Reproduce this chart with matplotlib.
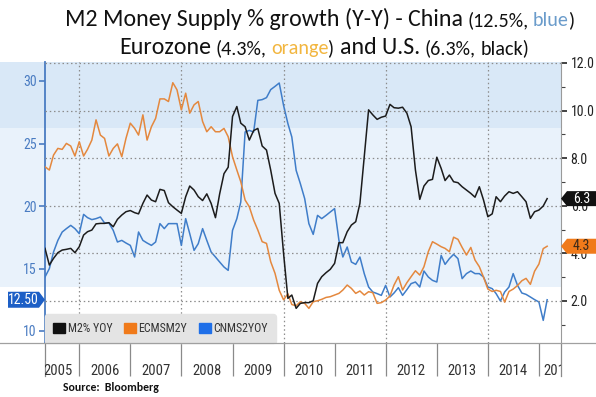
import matplotlib
matplotlib.use("Agg")
import matplotlib.pyplot as plt
import pandas as pd
from matplotlib import font_manager
from matplotlib.patches import Rectangle, Polygon, Patch
from matplotlib.transforms import Bbox, TransformedBbox, IdentityTransform

# monthly data, May 2005 .. Mar 2015
months = pd.date_range("2005-05-01", periods=119, freq="MS")

china_m2 = [14.32, 14.99, 16.32, 17.25, 17.92, 18.19, 18.45, 18.19, 17.79, 19.33,
            19.07, 18.91, 18.99, 19.12, 18.64, 18.64, 18.05, 17.12, 17.25, 17.04,
            16.85, 15.92, 17.92, 17.25, 17.04, 16.85, 17.12, 18.59, 18.19, 18.59,
            18.59, 18.59, 16.85, 18.99, 17.79, 16.45, 16.99, 18.19, 17.25, 16.32,
            15.92, 15.52, 15.12, 14.85, 18.05, 18.99, 20.32, 25.92, 26.05, 25.92,
            28.45, 28.51, 28.67, 29.31, 29.57, 29.84, 28.05, 26.59, 25.52, 22.85,
            21.79, 20.59, 18.59, 17.73, 19.25, 18.99, 19.25, 19.52, 19.79, 17.25,
            15.92, 16.72, 15.52, 15.33, 15.92, 14.59, 13.52, 13.12, 12.99, 12.85,
            13.65, 12.72, 13.04, 13.47, 12.85, 13.31, 13.79, 13.92, 13.52, 14.80,
            14.32, 14.05, 13.92, 16.05, 15.33, 15.79, 16.13, 15.79, 14.19, 14.59,
            14.80, 14.59, 14.59, 14.32, 13.52, 13.39, 12.99, 12.40, 13.12, 13.52,
            14.59, 13.65, 13.04, 12.93, 12.72, 12.51, 12.32, 10.85, 12.50]

euro_m2 = [7.64, 7.50, 8.13, 8.41, 8.37, 8.62, 8.51, 8.09, 8.69, 8.09,
           8.37, 8.76, 9.61, 8.97, 8.83, 8.09, 8.41, 8.60, 8.06, 8.83,
           9.47, 9.25, 8.97, 9.82, 8.76, 9.32, 9.67, 10.49, 10.49, 10.38,
           11.17, 10.87, 10.03, 10.73, 9.89, 10.24, 10.38, 9.54, 9.11, 9.32,
           9.11, 9.11, 9.25, 8.90, 8.06, 7.50, 7.01, 6.24, 5.96, 5.40,
           4.98, 4.49, 4.42, 3.65, 3.16, 2.45, 2.05, 2.30, 1.85, 1.80,
           1.97, 1.90, 1.69, 1.97, 2.01, 2.07, 2.15, 2.18, 2.25, 2.32,
           2.46, 2.67, 2.53, 2.32, 2.42, 2.25, 2.39, 2.35, 1.90, 1.93,
           2.04, 2.21, 2.67, 3.02, 2.46, 2.77, 3.02, 3.27, 3.09, 3.44,
           4.07, 4.49, 4.39, 4.28, 4.21, 4.07, 4.68, 4.59, 4.25, 3.93,
           4.25, 3.72, 3.44, 3.00, 2.50, 2.40, 2.45, 2.40, 1.95, 2.40,
           2.50, 2.65, 2.85, 2.95, 2.70, 3.25, 3.55, 4.20, 4.30]

us_m2 = [4.21, 3.51, 3.79, 4.03, 4.14, 4.17, 4.21, 4.03, 4.28, 4.77,
         4.91, 4.98, 5.24, 5.26, 5.26, 5.29, 5.12, 5.43, 5.61, 5.75,
         5.80, 5.71, 5.66, 6.10, 6.45, 6.24, 6.17, 6.69, 6.64, 6.13,
         5.96, 5.82, 5.68, 6.38, 6.83, 6.66, 6.38, 6.22, 6.50, 6.10,
         5.50, 6.50, 7.35, 7.62, 9.75, 10.17, 9.47, 9.32, 8.76, 9.16,
         9.25, 8.51, 8.34, 7.50, 6.52, 6.10, 4.00, 2.11, 2.25, 1.69,
         1.90, 1.93, 1.93, 2.01, 2.74, 3.02, 3.19, 3.33, 3.58, 4.45,
         4.45, 4.91, 5.19, 5.33, 6.10, 8.06, 10.03, 9.82, 9.63, 9.72,
         9.77, 10.26, 10.12, 10.10, 10.14, 9.89, 9.32, 7.50, 6.27, 6.83,
         7.06, 7.11, 8.04, 7.57, 7.06, 7.29, 7.01, 6.97, 6.80, 6.66,
         6.52, 6.36, 6.80, 6.24, 5.54, 5.66, 6.38, 6.17, 6.41, 6.59,
         6.52, 6.59, 6.38, 6.17, 5.47, 5.75, 5.82, 5.99, 6.30]

series_names = ["M2% YOY", "ECMSM2Y", "CNMS2YOY"]
left_ticks = [10, 15, 20, 25, 30]
right_ticks = [2, 4, 6, 8, 10, 12]
right_minor = [1, 3, 5, 7, 9, 11]
years = list(range(2005, 2016))
grid_years = [2006, 2008, 2010, 2012, 2014]

BLACK = "#1c1c1c"
ORANGE = "#e4883e"
BLUE = "#3f7dc9"
AX_BLUE = "#4a7cc2"
GRAY = "#9a9a9a"

installed = {f.name for f in font_manager.fontManager.ttflist}


def pick(*names):
    for n in names:
        if n in installed:
            return n
    return "DejaVu Sans"


AXIS_FONT = pick("Liberation Sans Narrow", "Roboto Condensed", "DejaVu Sans")
TITLE_FONT = pick("Carlito", "Lato", "Open Sans")

W, H = 596, 397
fig = plt.figure(figsize=(W / 100, H / 100), dpi=100)


def box(x, y, w, h):
    # pixel box measured from top-left -> figure fraction
    return [x / W, 1 - (y + h) / H, w / W, h / H]


# background bands
for (y0, y1, c) in [(62, 128, "#d9e8f7"), (128, 287, "#e9f2fb")]:
    fig.add_artist(Rectangle((0, 1 - y1 / H), 561 / W, (y1 - y0) / H,
                             transform=fig.transFigure, facecolor=c,
                             edgecolor="none", zorder=-5))

ax = fig.add_axes(box(45, 62, 516, 281))
ax2 = ax.twinx()
ax.patch.set_visible(False)

ax.plot(months, china_m2, color=BLUE, lw=1.1, zorder=3)
ax2.plot(months, euro_m2, color=ORANGE, lw=1.1, zorder=3)
ax2.plot(months, us_m2, color=BLACK, lw=1.1, zorder=4)

ax.set_xlim(pd.Timestamp("2005-05-01"), pd.Timestamp("2015-06-08"))
ax.set_ylim(9.04, 31.52)
ax2.set_ylim(0.235, 12.04)

# grid
ax2.set_yticks(right_ticks)
ax2.set_yticks(right_minor, minor=True)
ax2.grid(axis="y", which="major", color="#8c8c8c", ls=(0, (1.2, 2.2)), lw=0.9)
for yr in grid_years:
    ax.axvline(pd.Timestamp(f"{yr}-01-01"), color="#8c8c8c",
               ls=(0, (1.2, 2.2)), lw=0.9, zorder=1)

# spines
for a in (ax, ax2):
    a.spines["top"].set_visible(False)
ax2.spines["left"].set_visible(False)
ax.spines["right"].set_visible(False)
ax.spines["left"].set_color(AX_BLUE)
ax.spines["left"].set_linewidth(1.3)
ax2.spines["right"].set_color(GRAY)
ax.spines["bottom"].set_visible(False)
ax2.spines["bottom"].set_visible(False)

# left axis (China)
ax.set_yticks(left_ticks)
ax.tick_params(axis="y", colors=AX_BLUE, labelsize=10, length=4, width=1.2, pad=2)
for lab in ax.get_yticklabels():
    lab.set_family(AXIS_FONT)

# right axis
ax2.yaxis.set_major_formatter("{x:.1f}")
ax2.tick_params(axis="y", which="major", colors="#222222", labelsize=10,
                length=4, width=1.2, pad=3)
ax2.tick_params(axis="y", which="minor", colors="#444444", length=3, width=0.8)
for lab in ax2.get_yticklabels():
    lab.set_family(AXIS_FONT)

# x axis: year separators below the plot
ax.set_xticks([pd.Timestamp(f"{y}-01-01") for y in years[1:]])
ax.set_xticklabels([])
ax.tick_params(axis="x", direction="out", length=24, width=0.9, color="#8a8a8a")
ax2.tick_params(axis="x", length=0)
fig.add_artist(plt.Line2D([0, 1], [1 - 343 / H] * 2, color="#a0a0a0", lw=0.9))
for xa in (0, 1):
    ax.plot([xa, xa], [0, -0.117], transform=ax.transAxes, color="#8a8a8a",
            lw=0.9, clip_on=False)

clip = TransformedBbox(Bbox([[0, -1], [1, 1]]), ax.transAxes)
label_pos = {2005: "2005-08-01", 2015: "2015-05-15"}
for y in years:
    t = ax.text(pd.Timestamp(label_pos.get(y, f"{y}-07-01")), -0.1, str(y),
                transform=ax.get_xaxis_transform(), ha="center", va="center",
                fontsize=10.5, color="#333333", family=AXIS_FONT)
    t.set_clip_path(None)
    t.set_clip_box(clip)
    t.set_clip_on(True)

# legend
handles = [Patch(facecolor=c, edgecolor=c) for c in ("#111111", "#f07a1a", "#1f6fe8")]
leg = ax2.legend(handles, series_names, loc="lower left", bbox_to_anchor=(0, 0),
                 ncol=3, frameon=True, fancybox=True, facecolor="#e4e4e4",
                 edgecolor="#e4e4e4", framealpha=1, handlelength=1.0,
                 handleheight=1.0, handletextpad=0.25, columnspacing=0.95,
                 borderpad=0.65, borderaxespad=0,
                 prop={"family": AXIS_FONT, "size": 8.6})
for txt in leg.get_texts():
    txt.set_color("#333333")

# value tags
r = fig.canvas.get_renderer()


def tag(x_tip, yc, w, h, text, fc, tc, side):
    d = 6
    if side == "right":
        verts = [(x_tip, yc), (x_tip + d, yc + h / 2), (x_tip + w, yc + h / 2),
                 (x_tip + w, yc - h / 2), (x_tip + d, yc - h / 2)]
        xc = x_tip + d + (w - d) / 2
    else:
        verts = [(x_tip, yc), (x_tip - d, yc + h / 2), (x_tip - w, yc + h / 2),
                 (x_tip - w, yc - h / 2), (x_tip - d, yc - h / 2)]
        xc = x_tip - d - (w - d) / 2
    fig.add_artist(Polygon(verts, closed=True, transform=IdentityTransform(),
                           facecolor=fc, edgecolor="none", zorder=10))
    fig.text(xc, yc, text, transform=IdentityTransform(), ha="center",
             va="center", color=tc, fontsize=10, family=AXIS_FONT, zorder=11)


x_right = ax2.transAxes.transform((1, 0))[0]
x_left = ax.transAxes.transform((0, 0))[0]
tag(x_right, ax2.transData.transform((0, us_m2[-1]))[1], 35, 15,
    f"{us_m2[-1]:.1f}", "#111111", "white", "right")
tag(x_right, ax2.transData.transform((0, euro_m2[-1]))[1], 35, 15,
    f"{euro_m2[-1]:.1f}", "#f07a1a", "#3a2a1a", "right")
tag(x_left, ax.transData.transform((0, china_m2[-1]))[1], 37, 16,
    f"{china_m2[-1]:.2f}", "#1d5fc6", "white", "left")

# title with coloured runs
BIG, SMALL = 17.2, 14.5


def rich_line(y_px, runs, center_px=320):
    sp = {}
    texts = []
    for s, size, color, gap in runs:
        t = fig.text(0, 1 - y_px / H, s, fontsize=size, color=color,
                     family=TITLE_FONT, va="baseline", ha="left")
        texts.append((t, size, gap))
    widths = []
    for t, size, gap in texts:
        if size not in sp:
            a = fig.text(0, 0, "a a", fontsize=size, family=TITLE_FONT)
            b = fig.text(0, 0, "aa", fontsize=size, family=TITLE_FONT)
            sp[size] = a.get_window_extent(r).width - b.get_window_extent(r).width
            a.remove()
            b.remove()
        widths.append((sp[size] if gap else 0) + t.get_window_extent(r).width)
    x = center_px - sum(widths) / 2
    for (t, size, gap), w in zip(texts, widths):
        t.set_x((x + (sp[size] if gap else 0)) / W)
        x += w


rich_line(26, [("M2 Money Supply % growth (Y-Y) - China", BIG, "#111111", False),
               ("(12.5%,", SMALL, "#111111", True),
               ("blue", SMALL, "#6b9ccb", True),
               (")", SMALL, "#111111", False)])
rich_line(54, [("Eurozone", BIG, "#111111", False),
               ("(4.3%,", SMALL, "#111111", True),
               ("orange", SMALL, "#f2b640", True),
               (")", SMALL, "#111111", False),
               ("and U.S.", BIG, "#111111", True),
               ("(6.3%,", SMALL, "#111111", True),
               ("black)", SMALL, "#111111", True)], center_px=324)

fig.text(63 / W, 1 - 391 / H, "Source:  Bloomberg", fontsize=8.5,
         fontweight="bold", family=TITLE_FONT, color="#111111")

fig.savefig("out.png", dpi=100)
